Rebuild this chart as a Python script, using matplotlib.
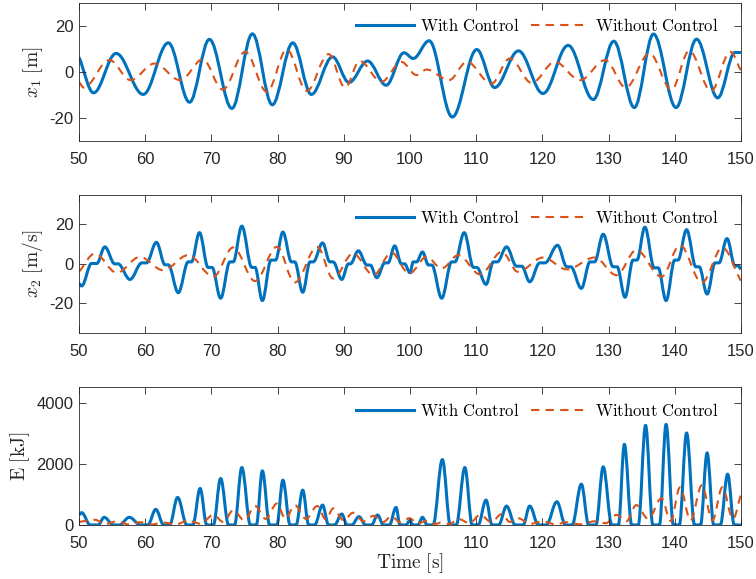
import matplotlib
matplotlib.use("Agg")
import matplotlib.pyplot as plt
from matplotlib.path import Path
from matplotlib.patches import PathPatch
from matplotlib.lines import Line2D

# extrema / turning points (time [s], value)
x1_on_t = [50.0, 52.2, 55.6, 59.7, 63.5, 66.7, 69.7, 73.1, 76.2, 79.2, 82.3, 85.1, 88.3, 90.8, 93.6, 96.4,
           99.1, 100.5, 102.9, 106.4, 110.1, 112.8, 116.4, 120.1, 123.9, 127.7, 130.8, 133.9, 136.8, 140.2,
           143.3, 146.5, 149.1, 150.0]
x1_on = [6.3, -9.1, 8.0, -9.8, 12.6, -13.2, 14.1, -15.9, 16.5, -14.3, 12.6, -9.8, 6.5, -4.6, 4.7, -5.8,
         8.3, 5.8, 13.5, -19.6, 9.7, -6.8, 9.1, -9.4, 11.5, -12.0, 13.3, -15.5, 16.4, -15.5,
         14.2, -11.3, 8.4, 8.4]

x1_off_t = [50.0, 50.7, 54.6, 57.8, 61.4, 65.3, 68.7, 71.7, 75.1, 78.4, 81.4, 84.4, 87.7, 90.2, 92.4, 95.7,
            98.7, 101.0, 102.5, 105.9, 108.6, 112.3, 115.1, 118.4, 121.9, 125.7, 129.5, 132.6, 136.2, 139.5,
            142.2, 145.5, 148.4, 150.0]
x1_off = [-4.3, -6.8, 5.1, -3.6, 3.6, -3.6, 5.4, -7.7, 8.7, -8.7, 9.7, -8.3, 7.7, -6.8, 4.7, -4.3,
          4.3, -1.4, 1.0, -3.6, 4.3, -5.1, 5.8, -4.8, 4.3, -3.6, 5.1, -6.8, 8.0, -7.7,
          9.1, -8.3, 8.7, 0.7]

x2_on_t = [50.0, 50.4,
           51.9, 52.7, 53.9, 55.4, 55.9, 57.7, 59.5, 60.2, 61.7, 63.0, 63.5, 65.0,
           66.5, 67.0, 68.2, 69.5, 70.1, 71.4, 72.8, 73.3, 74.6, 76.1, 76.6, 77.7,
           79.0, 79.7, 80.8, 82.1, 82.6, 83.8, 84.9, 85.4, 86.8, 87.9, 88.4, 89.7,
           90.7, 91.0, 92.2, 93.5, 94.0, 95.0, 96.2, 96.7, 97.7, 98.7, 99.2, 100.0,
           100.5, 101.0, 101.9, 102.8, 103.3, 104.8, 106.3, 106.8, 108.2, 109.6, 110.1, 111.5,
           112.6, 113.2, 114.6, 116.1, 116.9, 118.1, 119.6, 120.4, 122.3, 123.7, 124.3, 125.9,
           127.2, 127.9, 129.2, 130.7, 131.3, 132.5, 133.7, 134.3, 135.5, 136.9, 137.5, 138.7,
           140.0, 140.5, 141.8, 143.2, 143.7, 144.9, 146.1, 146.7, 147.9,
           149.1, 149.6, 150.0]
x2_on = [-9.9, -11.2,
         0.2, 0.2, 8.6, 0.0, 0.0, -7.9, 0.5, 0.5, 10.9, -0.5, -0.5, -14.6,
         1.0, 1.0, 15.8, -1.8, -1.8, -17.4, 1.0, 1.0, 19.1, -1.8, -1.8, -18.6,
         1.9, 1.9, 16.1, 1.0, 1.0, -14.4, 1.0, 1.0, 10.6, 1.0, 1.0, -7.9,
         0.0, 0.0, 6.6, -0.6, -0.6, -7.0, 0.5, 0.5, 9.1, 0.0, 0.0, -4.5,
         1.0, 1.0, 6.0, -0.6, -0.6, -17.4, 1.0, 1.0, 15.8, -1.8, -1.8, -10.4,
         1.0, 1.0, 8.6, -1.2, -1.2, -9.1, 0.5, 0.5, 9.4, -1.5, -1.5, -12.4,
         1.0, 1.0, 15.0, -1.5, -1.5, -16.9, 1.9, 1.9, 18.6, -2.0, -2.0, -18.6,
         1.9, 1.9, 17.3, -1.5, -1.5, -15.3, 0.5, 0.5, 12.8,
         -1.0, -1.0, -2.8]

x2_off_t = [50.0, 52.4, 55.7, 59.2, 62.7, 66.5, 70.3, 73.3, 76.6, 79.9, 82.6, 86.0, 88.4, 91.4, 94.5, 97.2,
            99.9, 102.5, 104.8, 107.3, 110.6, 113.9, 116.3, 120.1, 123.7, 127.9, 131.2, 134.2, 138.0, 140.8,
            144.1, 147.2, 150.0]
x2_off = [-4.0, 5.2, -4.5, 3.5, -3.2, 4.4, -6.5, 8.3, -8.7, 8.6, -9.4, 8.6, -7.4, 5.2, -5.7, 5.7,
          -4.9, 3.5, -2.3, 4.4, -5.3, 6.1, -4.0, 3.2, -2.8, 3.2, -5.7, 6.9, -6.5, 9.4,
          -9.5, 8.1, -8.5]

E_on_t = [50.0, 50.4,
          51.7, 52.9, 53.8, 55.2, 56.1, 57.6, 59.3, 60.4, 61.6, 62.8, 63.7, 64.9,
          66.3, 67.2, 68.3, 69.3, 70.3, 71.4, 72.6, 73.5, 74.6, 75.9, 76.8, 77.7,
          78.8, 79.9, 80.8, 81.9, 82.8, 83.8, 84.7, 85.6, 86.8, 87.7, 88.6, 89.7,
          90.5, 91.2, 92.3, 93.3, 94.2, 95.1, 96.0, 96.9, 97.9, 98.5, 99.4, 100.0,
          100.4, 101.2, 101.9, 102.6, 103.5, 104.9, 106.1, 107.0, 108.3, 109.4, 110.3, 111.5,
          112.4, 113.4, 114.6, 115.9, 117.1, 118.1, 119.4, 120.6, 122.2, 123.5, 124.5, 125.9,
          127.0, 128.1, 129.2, 130.5, 131.5, 132.4, 133.5, 134.5, 135.6, 136.7, 137.7, 138.7,
          139.8, 140.7, 141.8, 143.0, 143.9, 144.9, 145.9, 146.9, 148.0,
          149.0, 150.0]
E_on = [326, 402,
        0, 0, 250, 0, 0, 250, 0, 0, 510, 0, 0, 901,
        0, 0, 1194, 0, 0, 1520, 0, 0, 1878, 0, 0, 1769,
        0, 0, 1465, 0, 0, 1140, 0, 0, 651, 0, 0, 358,
        0, 0, 271, 0, 0, 326, 0, 0, 575, 0, 0, 150,
        0, 0, 250, 0, 0, 2139, 0, 0, 1878, 0, 0, 814,
        0, 0, 619, 0, 0, 619, 0, 0, 760, 0, 0, 1335,
        0, 0, 1900, 0, 0, 2638, 0, 0, 3257, 0, 0, 3290,
        0, 0, 3007, 0, 0, 2356, 0, 0, 1661,
        0, 0]

E_off_t = [50.0, 52.4, 54.0, 55.7, 57.5, 59.2, 61.0, 62.7, 64.6, 66.5, 68.4, 70.3, 71.8, 73.3, 75.0, 76.6,
           78.2, 79.9, 81.2, 82.6, 84.3, 86.0, 87.3, 88.4, 90.0, 91.4, 93.0, 94.5, 95.9, 97.2, 98.6, 99.9,
           101.2, 102.5, 103.7, 104.8, 106.0, 107.3, 109.0, 110.6, 112.3, 113.9, 115.1, 116.3, 118.2, 120.1,
           122.0, 123.7, 125.8, 127.9, 129.6, 131.2, 132.7, 134.2, 136.0, 138.0, 139.4, 140.8, 142.4, 144.1,
           145.7, 147.2, 148.8, 150.0]
E_off = [100, 170, 30, 120, 20, 90, 15, 80, 20, 140, 40, 330, 100, 480, 150, 620,
         200, 700, 200, 650, 200, 620, 180, 540, 150, 400, 120, 300, 90, 280, 80, 220,
         50, 130, 30, 80, 30, 200, 60, 330, 100, 360, 100, 220, 40, 120,
         20, 90, 20, 120, 60, 330, 120, 650, 200, 870, 130, 1230, 150, 1300,
         150, 1230, 200, 980]

time_ticks = list(range(50, 151, 10))
labels = ['$\\mathrm{With\\ Control}$', '$\\mathrm{Without\\ Control}$']

blue = '#0072BD'
orange = '#D95319'
axcol = '#262626'

plt.rcParams['font.family'] = ['Liberation Sans', 'DejaVu Sans']
plt.rcParams['mathtext.fontset'] = 'cm'
plt.rcParams['axes.unicode_minus'] = False


def smooth(t, y, k=0.36):
    # cubic segments with flat tangents at the read turning points
    assert len(t) == len(y)
    verts = [(t[0], y[0])]
    codes = [Path.MOVETO]
    n = len(t)
    for i in range(1, n):
        dt = t[i] - t[i - 1]
        a, b = y[i - 1], y[i]
        c0 = a + (b - a) / 3 if i == 1 else a
        c1 = b - (b - a) / 3 if i == n - 1 else b
        verts += [(t[i - 1] + k * dt, c0), (t[i] - k * dt, c1), (t[i], b)]
        codes += [Path.CURVE4] * 3
    return Path(verts, codes)


def draw(ax, t, y, on):
    if on:
        p = PathPatch(smooth(t, y), fill=False, edgecolor=blue, lw=2.2, joinstyle='round')
    else:
        p = PathPatch(smooth(t, y), fill=False, edgecolor=orange, lw=1.5, linestyle=(0, (4, 3)))
    ax.add_patch(p)


fig = plt.figure(figsize=(7.56, 5.79), dpi=100)
boxes = [[0.1045, 0.7565, 0.8755, 0.2388],
         [0.1045, 0.4249, 0.8755, 0.2388],
         [0.1045, 0.0933, 0.8755, 0.2378]]
axs = [fig.add_axes(b) for b in boxes]

draw(axs[0], x1_on_t, x1_on, True)
draw(axs[0], x1_off_t, x1_off, False)
draw(axs[1], x2_on_t, x2_on, True)
draw(axs[1], x2_off_t, x2_off, False)
draw(axs[2], E_on_t, E_on, True)
draw(axs[2], E_off_t, E_off, False)

axs[0].set_ylim(-30, 30)
axs[0].set_yticks([-20, 0, 20])
axs[0].set_ylabel('$x_1\\ [\\mathrm{m}]$', fontsize=14, color=axcol, labelpad=3)
axs[1].set_ylim(-35, 35)
axs[1].set_yticks([-20, 0, 20])
axs[1].set_ylabel('$x_2\\ [\\mathrm{m/s}]$', fontsize=14, color=axcol, labelpad=3)
axs[2].set_ylim(0, 4500)
axs[2].set_yticks([0, 2000, 4000])
axs[2].set_ylabel('$\\mathrm{E}\\ [\\mathrm{kJ}]$', fontsize=14, color=axcol, labelpad=3)
axs[2].set_xlabel('$\\mathrm{Time}\\ [\\mathrm{s}]$', fontsize=14, color=axcol, labelpad=0)

handles = [Line2D([], [], color=blue, lw=2.2),
           Line2D([], [], color=orange, lw=1.5, linestyle=(0, (4, 3)))]

for ax in axs:
    ax.set_xlim(50, 150)
    ax.set_xticks(time_ticks)
    ax.tick_params(direction='in', top=True, right=True, length=4.8, width=0.6,
                   labelsize=12, colors=axcol)
    ax.tick_params(axis='x', pad=8)
    ax.tick_params(axis='y', pad=4)
    for s in ax.spines.values():
        s.set_color(axcol)
        s.set_linewidth(0.6)
    ax.legend(handles, labels, loc='upper right', bbox_to_anchor=(0.976, 0.945), ncol=2,
              frameon=False, fontsize=12, handlelength=3.5, handletextpad=0.35,
              columnspacing=0.65, borderaxespad=0, borderpad=0.4)

fig.savefig('out.png', dpi=100)
